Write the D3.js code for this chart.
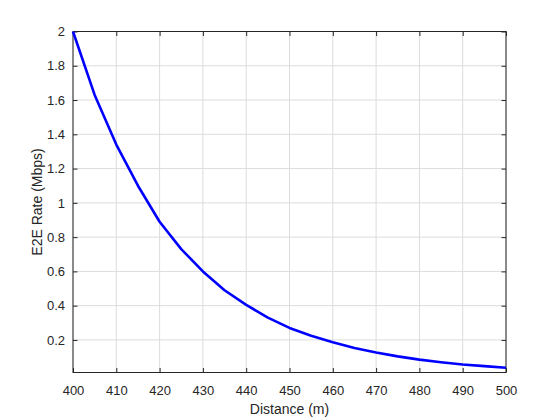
<!DOCTYPE html>
<html>
<head>
<meta charset="utf-8">
<script src="https://cdn.jsdelivr.net/npm/d3@7"></script>
<style>
  body { margin: 0; background: #fff; }
  text { font-family: "Liberation Sans", Arial, sans-serif; fill: #262626; }
</style>
</head>
<body>
<div class="chart"></div>
<script>
// Data (distance in m, rate in Mbps)
const distance = [400, 405, 410, 415, 420, 425, 430, 435, 440, 445, 450,
                  455, 460, 465, 470, 475, 480, 485, 490, 495, 500];
const rate = [2.0, 1.63, 1.34, 1.1, 0.89, 0.73, 0.6, 0.49, 0.405, 0.33, 0.27,
              0.225, 0.186, 0.153, 0.127, 0.104, 0.085, 0.07, 0.057, 0.047, 0.038];
const xTicks = [400, 410, 420, 430, 440, 450, 460, 470, 480, 490, 500];
const yTicks = [0.2, 0.4, 0.6, 0.8, 1, 1.2, 1.4, 1.6, 1.8, 2];

const width = 560, height = 420;
const margin = { left: 73, right: 54, top: 31.5, bottom: 47.5 };

const svg = d3.select(".chart")
    .append("svg")
    .attr("width", width)
    .attr("height", height);

const xScale = d3.scaleLinear()
    .domain([400, 500])
    .range([margin.left, width - margin.right]);

const yScale = d3.scaleLinear()
    .domain([0.01, 2])
    .range([height - margin.bottom, margin.top]);

const x0 = xScale.range()[0], x1 = xScale.range()[1];
const y0 = yScale.range()[0], y1 = yScale.range()[1];

// grid lines
svg.append("g")
    .selectAll("line")
    .data(xTicks)
    .enter().append("line")
    .attr("x1", d => xScale(d)).attr("x2", d => xScale(d))
    .attr("y1", y0).attr("y2", y1)
    .attr("stroke", "#dcdcdc").attr("stroke-width", 1);

svg.append("g")
    .selectAll("line")
    .data(yTicks)
    .enter().append("line")
    .attr("x1", x0).attr("x2", x1)
    .attr("y1", d => yScale(d)).attr("y2", d => yScale(d))
    .attr("stroke", "#dcdcdc").attr("stroke-width", 1);

// axes (ticks inward, box on)
const tick = 4.5;
const styleAxis = g => {
    g.select(".domain").remove();
    g.selectAll(".tick line").attr("stroke", "#262626");
    g.selectAll(".tick text").style("font-size", "13px").attr("fill", "#262626");
};

svg.append("g")
    .attr("transform", `translate(0,${y0})`)
    .call(d3.axisBottom(xScale).tickValues(xTicks).tickSizeInner(-tick).tickPadding(13).tickFormat(d3.format("d")))
    .call(styleAxis);

svg.append("g")
    .attr("transform", `translate(0,${y1})`)
    .call(d3.axisTop(xScale).tickValues(xTicks).tickSizeInner(-tick).tickFormat(""))
    .call(styleAxis);

svg.append("g")
    .attr("transform", `translate(${x0},0)`)
    .call(d3.axisLeft(yScale).tickValues(yTicks).tickSizeInner(-tick).tickPadding(8).tickFormat(d => String(+d.toFixed(1))))
    .call(styleAxis);

svg.append("g")
    .attr("transform", `translate(${x1},0)`)
    .call(d3.axisRight(yScale).tickValues(yTicks).tickSizeInner(-tick).tickFormat(""))
    .call(styleAxis);

svg.append("rect")
    .attr("x", x0).attr("y", y1)
    .attr("width", x1 - x0).attr("height", y0 - y1)
    .attr("fill", "none")
    .attr("stroke", "#262626")
    .attr("stroke-width", 1);

// the curve
const line = d3.line()
    .x((d, i) => xScale(distance[i]))
    .y(d => yScale(d));

svg.append("path")
    .datum(rate)
    .attr("fill", "none")
    .attr("stroke", "#0000ff")
    .attr("stroke-width", 2.6)
    .attr("stroke-linejoin", "round")
    .attr("d", line);

// axis labels
svg.append("text")
    .attr("x", (x0 + x1) / 2)
    .attr("y", 414)
    .attr("text-anchor", "middle")
    .style("font-size", "14px")
    .text("Distance (m)");

svg.append("text")
    .attr("transform", `translate(42,${(y0 + y1) / 2}) rotate(-90)`)
    .attr("text-anchor", "middle")
    .style("font-size", "14px")
    .text("E2E Rate (Mbps)");
</script>
</body>
</html>
